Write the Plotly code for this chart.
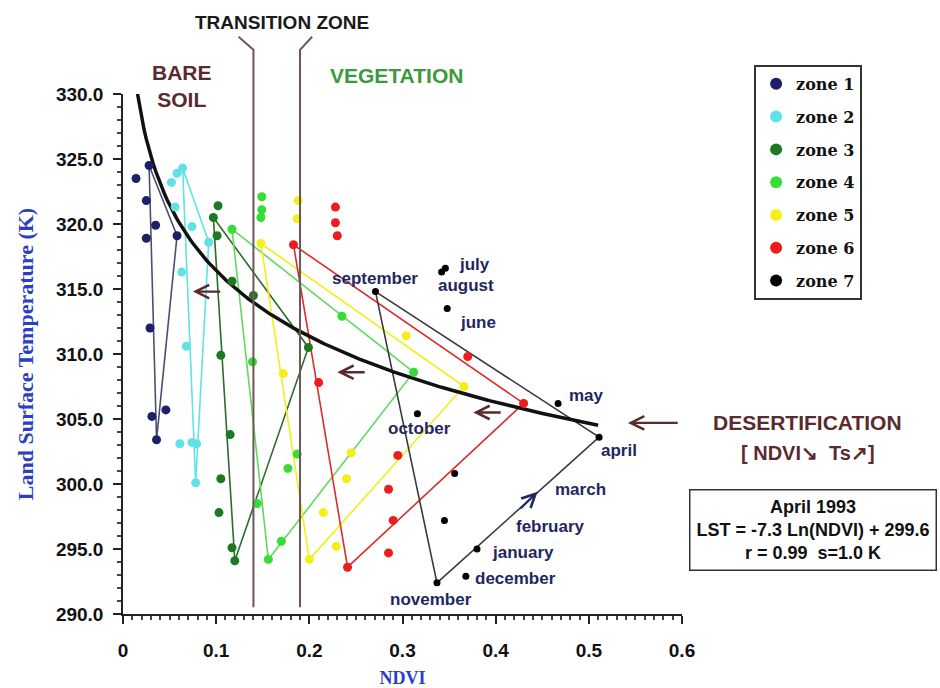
import numpy as np
import plotly.graph_objects as go

# ---- monthly NDVI / land surface temperature per zone ----
zone1_ndvi = [0.014, 0.028, 0.025, 0.035, 0.025, 0.058, 0.029, 0.031, 0.046, 0.036]
zone1_lst = [323.5, 324.5, 321.8, 319.9, 318.9, 319.1, 312.0, 305.2, 305.7, 303.4]

zone2_ndvi = [0.058, 0.064, 0.052, 0.056, 0.074, 0.092, 0.063, 0.068, 0.061, 0.074, 0.079, 0.078]
zone2_lst = [323.9, 324.3, 323.2, 321.3, 319.8, 318.6, 316.3, 310.6, 303.1, 303.2, 303.1, 300.1]

zone3_ndvi = [0.102, 0.097, 0.101, 0.117, 0.140, 0.105, 0.115, 0.105, 0.103, 0.117, 0.120, 0.199]
zone3_lst = [321.4, 320.5, 319.1, 315.6, 314.5, 309.9, 303.8, 300.4, 297.8, 295.1, 294.1, 310.5]

zone4_ndvi = [0.149, 0.149, 0.148, 0.117, 0.235, 0.139, 0.312, 0.177, 0.187, 0.144, 0.170, 0.156]
zone4_lst = [322.1, 321.1, 320.5, 319.6, 312.9, 309.4, 308.6, 301.2, 302.3, 298.5, 295.6, 294.2]

zone5_ndvi = [0.188, 0.187, 0.148, 0.172, 0.304, 0.366, 0.245, 0.240, 0.215, 0.229, 0.200]
zone5_lst = [321.8, 320.4, 318.5, 308.5, 311.4, 307.5, 302.4, 300.4, 297.8, 295.2, 294.2]

zone6_ndvi = [0.228, 0.228, 0.230, 0.183, 0.210, 0.370, 0.430, 0.295, 0.285, 0.290, 0.285, 0.241]
zone6_lst = [321.3, 320.1, 319.1, 318.4, 307.8, 309.8, 306.2, 302.2, 299.6, 297.2, 294.7, 293.6]

# zone 7, January .. December
zone7_ndvi = [0.380, 0.345, 0.356, 0.511, 0.467, 0.348, 0.346, 0.342, 0.271, 0.316, 0.337, 0.368]
zone7_lst = [295.0, 297.2, 300.8, 303.6, 306.2, 313.5, 316.6, 316.3, 314.8, 305.4, 292.4, 292.9]

# indices of the September, November and April points of each zone
zone_cycle = {
    "zone 1": (1, 9, 5),
    "zone 2": (1, 11, 5),
    "zone 3": (1, 10, 11),
    "zone 4": (3, 11, 6),
    "zone 5": (2, 10, 5),
    "zone 6": (3, 11, 6),
    "zone 7": (8, 10, 3),
}

zone_names = ["zone 1", "zone 2", "zone 3", "zone 4", "zone 5", "zone 6", "zone 7"]
zone_ndvi = [zone1_ndvi, zone2_ndvi, zone3_ndvi, zone4_ndvi, zone5_ndvi, zone6_ndvi, zone7_ndvi]
zone_lst = [zone1_lst, zone2_lst, zone3_lst, zone4_lst, zone5_lst, zone6_lst, zone7_lst]

# regression for April 1993: LST = a * ln(NDVI) + b
fit_a = -7.3
fit_b = 299.6
fit_ndvi_min = 0.015
fit_ndvi_max = 0.51

# month names written beside the zone 7 points
month_text = ["july", "august", "june", "september", "may", "april", "october",
              "march", "february", "january", "december", "november"]

x_ticks = [0, 0.1, 0.2, 0.3, 0.4, 0.5, 0.6]
y_ticks = [290, 295, 300, 305, 310, 315, 320, 325, 330]

# ---- styling ----
SANS = "Liberation Sans, Arial, sans-serif"
SERIF = "DejaVu Serif, serif"
TITLE_SERIF = "Liberation Serif, Times New Roman, serif"
NAVY = "#1f2760"
BROWN = "#5b2a2d"
TITLE_BLUE = "#2a3fc2"

marker_colors = ["#1b2068", "#5fe3e6", "#1e7a22", "#35dd35", "#f4ee1a", "#ee1d1d", "#000000"]
line_colors = ["#4a4f72", "#5fe3e6", "#2b6d2d", "#5fd95f", "#f4ee1a", "#dd2a2a", "#3a3a3a"]
marker_sizes = [9, 9, 9, 9, 9, 9, 7]

# anchor of each month label (x, y, xanchor)
month_pos = [
    (0.359, 316.9, "left"),
    (0.368, 315.3, "center"),
    (0.360, 312.4, "left"),
    (0.271, 315.8, "center"),
    (0.477, 306.8, "left"),
    (0.511, 302.6, "left"),
    (0.318, 304.3, "center"),
    (0.462, 299.6, "left"),
    (0.459, 296.7, "center"),
    (0.394, 294.7, "left"),
    (0.376, 292.7, "left"),
    (0.331, 291.1, "center"),
]

fig = go.Figure()

# September -> November -> April -> September loops
for name, xs, ys, lc in zip(zone_names, zone_ndvi, zone_lst, line_colors):
    loop = list(zone_cycle[name]) + [zone_cycle[name][0]]
    fig.add_trace(go.Scatter(
        x=[xs[i] for i in loop], y=[ys[i] for i in loop],
        mode="lines", line=dict(color=lc, width=1.6),
        showlegend=False, hoverinfo="skip",
    ))

# fitted logarithmic curve
fit_x = np.linspace(fit_ndvi_min, fit_ndvi_max, 200)
fit_y = fit_a * np.log(fit_x) + fit_b
fig.add_trace(go.Scatter(
    x=fit_x, y=fit_y, mode="lines",
    line=dict(color="#111111", width=3.5),
    showlegend=False, hoverinfo="skip",
))

# monthly points
for name, xs, ys, mc, ms in zip(zone_names, zone_ndvi, zone_lst, marker_colors, marker_sizes):
    fig.add_trace(go.Scatter(
        x=xs, y=ys, mode="markers", name=name, legendgroup=name,
        marker=dict(color=mc, size=ms, line=dict(width=0)),
    ))

annotations = []

# month labels
for txt, (mx, my, anchor) in zip(month_text, month_pos):
    annotations.append(dict(
        x=mx, y=my, xref="x", yref="y", text=txt, showarrow=False,
        xanchor=anchor, yanchor="middle",
        font=dict(family=SANS, size=17, color=NAVY, weight="bold"),
    ))

# brown arrows pointing towards bare soil
for (hx, tx, yy) in [(0.075, 0.106, 314.8), (0.230, 0.261, 308.6), (0.376, 0.407, 305.5), (0.542, 0.597, 304.7)]:
    annotations.append(dict(
        x=hx, y=yy, ax=tx, ay=yy, xref="x", yref="y", axref="x", ayref="y",
        text="", showarrow=True, arrowhead=5, arrowsize=1.1, arrowwidth=2.4,
        arrowcolor=BROWN,
    ))

# blue arrow along the November -> April path
annotations.append(dict(
    x=0.445, y=299.4, ax=0.425, ay=298.0, xref="x", yref="y", axref="x", ayref="y",
    text="", showarrow=True, arrowhead=5, arrowsize=1.2, arrowwidth=2.2,
    arrowcolor=NAVY,
))


def heading(x, y, text, size, color):
    return dict(x=x, y=y, xref="paper", yref="paper", text=text, showarrow=False,
                xanchor="center", yanchor="middle", align="center",
                font=dict(family=SANS, size=size, color=color, weight="bold"))


annotations += [
    heading(0.2844, 1.138, "TRANSITION ZONE", 19, "#1a1a1a"),
    heading(0.1055, 1.015, "BARE<br>SOIL", 21, BROWN),
    heading(0.490, 1.0365, "VEGETATION", 21, "#3b9a3b"),
    heading(1.2254, 0.369, "DESERTIFICATION", 21, BROWN),
    heading(1.2254, 0.3096, "[ NDVI\u2198  Ts\u2197]", 20, BROWN),
]

# regression box
annotations.append(dict(
    x=1.234, y=0.162, xref="paper", yref="paper",
    text="April 1993<br>LST = -7.3 Ln(NDVI) + 299.6<br>r = 0.99  s=1.0 K",
    showarrow=False, align="center", xanchor="center", yanchor="middle",
    font=dict(family=SANS, size=18, color="#111111", weight="bold"),
    bordercolor="#333333", borderwidth=1.5, borderpad=6, bgcolor="white",
))

# transition-zone boundaries with their leaders to the heading
shapes = [
    dict(type="path", xref="x", yref="paper",
         path="M 0.14,0.013 L 0.14,1.085 L 0.124,1.11",
         line=dict(color="#6e5557", width=2)),
    dict(type="path", xref="x", yref="paper",
         path="M 0.19,0.013 L 0.19,1.085 L 0.203,1.11",
         line=dict(color="#6e5557", width=2)),
]

fig.update_layout(
    width=940, height=688,
    margin=dict(l=123, r=258, t=94, b=74, autoexpand=False),
    paper_bgcolor="white", plot_bgcolor="white",
    showlegend=True,
    legend=dict(
        x=1.129, y=1.056, xanchor="left", yanchor="top",
        bordercolor="#333333", borderwidth=2, bgcolor="white",
        font=dict(family=SERIF, size=16, color="#111111", weight="bold"),
        tracegroupgap=9, itemsizing="constant",
    ),
    annotations=annotations,
    shapes=shapes,
    xaxis=dict(
        range=[0, 0.6], tickvals=x_ticks, ticktext=[("%g" % v) for v in x_ticks],
        automargin=False,
        ticks="outside", ticklen=8, tickwidth=1.5, tickcolor="#222",
        showline=True, linecolor="#222", linewidth=1.5,
        showgrid=False, zeroline=False,
        minor=dict(dtick=0.01, ticks="outside", ticklen=4, tickcolor="#444"),
        tickfont=dict(family=SANS, size=19, color="#111", weight="bold"),
        ticklabelstandoff=10,
        title=dict(text="NDVI", standoff=12,
                   font=dict(family=TITLE_SERIF, size=18, color=TITLE_BLUE, weight="bold")),
    ),
    yaxis=dict(
        range=[290, 330], tickvals=y_ticks, tickformat=".1f",
        automargin=False,
        ticks="outside", ticklen=8, tickwidth=1.5, tickcolor="#222",
        showline=True, linecolor="#222", linewidth=1.5,
        showgrid=False, zeroline=False,
        minor=dict(dtick=1, ticks="outside", ticklen=4, tickcolor="#444"),
        tickfont=dict(family=SANS, size=19, color="#111", weight="bold"),
        ticklabelstandoff=6,
        title=dict(text="Land Surface Temperature (K)", standoff=16,
                   font=dict(family=TITLE_SERIF, size=22, color=TITLE_BLUE, weight="bold")),
    ),
)

fig.write_html("out.html")
